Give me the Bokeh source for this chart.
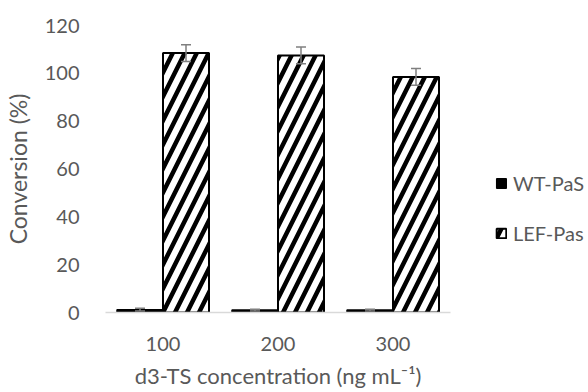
from bokeh.plotting import figure
from bokeh.models import (FactorRange, Range1d, ColumnDataSource, Whisker, TeeHead,
                          Legend, LegendItem, FixedTicker)
from bokeh.transform import dodge
from bokeh.embed import file_html
from bokeh.resources import INLINE

categories = ["100", "200", "300"]
series_names = ["WT-PaS", "LEF-Pas"]
wt_values = [1.2, 1.0, 1.0]
wt_errors = [0.6, 0.4, 0.4]
lef_values = [108.5, 107.5, 98.5]
lef_errors = [3.5, 3.5, 3.5]
y_ticks = [0, 20, 40, 60, 80, 100, 120]

FONT = "Lato"
GRAY = "#595959"

src = ColumnDataSource(dict(
    cat=categories,
    wt=wt_values,
    wt_lo=[v - e for v, e in zip(wt_values, wt_errors)],
    wt_hi=[v + e for v, e in zip(wt_values, wt_errors)],
    lef=lef_values,
    lef_lo=[v - e for v, e in zip(lef_values, lef_errors)],
    lef_hi=[v + e for v, e in zip(lef_values, lef_errors)],
))

FW, FH = 345, 287
p = figure(frame_width=FW, frame_height=FH, output_backend="svg", toolbar_location=None,
           x_range=FactorRange(*categories, range_padding=0),
           y_range=Range1d(0, 120),
           min_border_left=105, min_border_right=0,
           min_border_top=25, min_border_bottom=80)
p.outline_line_color = None
p.grid.grid_line_color = None
p.background_fill_color = "white"
p.border_fill_color = "white"

r_wt = p.vbar(x=dodge("cat", -0.2, range=p.x_range), top="wt", width=0.4, source=src,
              fill_color="black", line_color="black", line_width=1.5)
r_lef = p.vbar(x=dodge("cat", 0.2, range=p.x_range), top="lef", width=0.4, source=src,
               fill_color="white", line_color="black", line_width=2,
               hatch_pattern="/", hatch_color="black", hatch_scale=24, hatch_weight=4.5)

# invisible placeholder renderer for spacer rows of the legend
blank = p.scatter(x=[], y=[], fill_alpha=0, line_alpha=0)

for base, lo, hi in [(-0.2, "wt_lo", "wt_hi"), (0.2, "lef_lo", "lef_hi")]:
    w = Whisker(base=dodge("cat", base, range=p.x_range), lower=lo, upper=hi, source=src,
                line_color="#7f7f7f", line_width=1.5, level="overlay",
                upper_head=TeeHead(size=10, line_color="#7f7f7f", line_width=1.5),
                lower_head=TeeHead(size=10, line_color="#7f7f7f", line_width=1.5))
    p.add_layout(w)

p.yaxis.ticker = FixedTicker(ticks=y_ticks)
p.yaxis.axis_line_color = None
p.yaxis.major_tick_line_color = None
p.yaxis.minor_tick_line_color = None
p.yaxis.major_label_standoff = 20
p.yaxis.axis_label = "Conversion (%)"
p.yaxis.axis_label_standoff = 10

p.xaxis.axis_line_color = "#d9d9d9"
p.xaxis.axis_line_width = 1.5
p.xaxis.major_tick_line_color = None
p.xaxis.minor_tick_line_color = None
p.xaxis.major_label_standoff = 18
p.xaxis.axis_label = "d3-TS concentration (ng mL\u207b\u00b9)"
p.xaxis.axis_label_standoff = 8

for ax in (p.xaxis, p.yaxis):
    ax.major_label_text_font = FONT
    ax.major_label_text_font_size = "20px"
    ax.major_label_text_color = GRAY
    ax.axis_label_text_font = FONT
    ax.axis_label_text_font_size = "22px"
    ax.axis_label_text_color = GRAY
    ax.axis_label_text_font_style = "normal"
p.yaxis.axis_label_text_font_size = "23px"

legend = Legend(items=[LegendItem(label=" ", renderers=[blank]),
                       LegendItem(label=" ", renderers=[blank]),
                       LegendItem(label=series_names[0], renderers=[r_wt]),
                       LegendItem(label=series_names[1], renderers=[r_lef])],
                location="top_left", orientation="vertical",
                label_text_font=FONT, label_text_font_size="20px", label_text_color=GRAY,
                glyph_width=12, glyph_height=12, label_height=25, label_standoff=6, spacing=25,
                border_line_color=None, background_fill_alpha=0,
                padding=0, margin=45)
p.add_layout(legend, "right")

open("out.html", "w").write(file_html(p, INLINE))
